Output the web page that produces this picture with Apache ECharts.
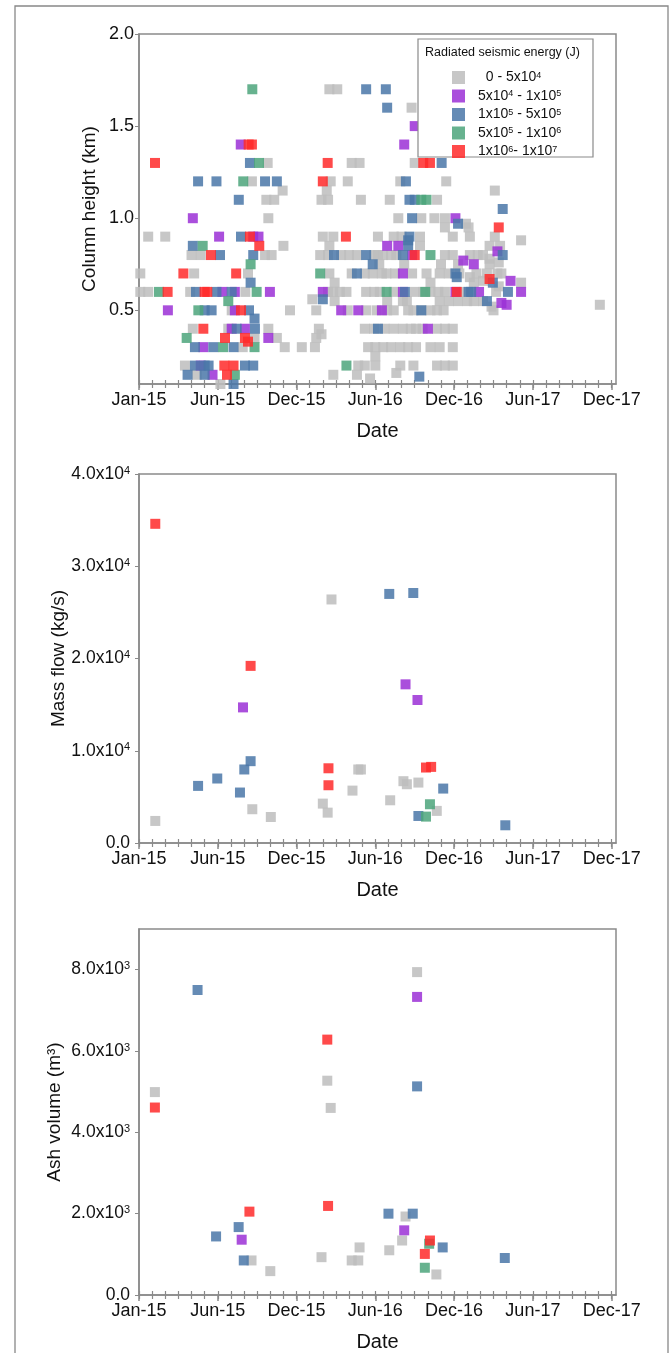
<!DOCTYPE html>
<html><head><meta charset="utf-8">
<script src="https://cdn.jsdelivr.net/npm/echarts@6/dist/echarts.min.js"></script>
<style>html,body{margin:0;padding:0;background:#fff}#c{width:669px;height:1353px}</style>
</head><body><div id="c"></div>
<script>
// x values: months since Jan-15 (axis unit = one minor tick)
const dateLabels = ['Jan-15','Jun-15','Dec-15','Jun-16','Dec-16','Jun-17','Dec-17'];
const dateLabelPos = [0,6,12,18,24,30,36];
const energyClasses = ['0 - 5x10^4','5x10^4 - 1x10^5','1x10^5 - 5x10^5','5x10^5 - 1x10^6','1x10^6- 1x10^7'];
const legendTitle = 'Radiated seismic energy (J)';

// Panel 1: column height (km)
const heightGray = [[14.5,1.7],[15.1,1.7],[20.76,1.6],[9.8,1.3],[16.2,1.3],[16.8,1.3],[21.0,1.3],
 [8.6,1.2],[14.6,1.2],[15.9,1.2],[19.9,1.2],[23.4,1.2],[10.94,1.15],[14.3,1.15],[27.1,1.15],
 [9.7,1.1],[10.3,1.1],[13.9,1.1],[14.4,1.1],[16.9,1.1],[19.1,1.1],[22.7,1.1],
 [9.85,1.0],[19.75,1.0],[21.5,1.0],[22.5,1.0],[23.3,1.0],[24.9,0.97],[23.3,0.95],[25.1,0.95],
 [0.7,0.9],[2.0,0.9],[14.0,0.9],[14.8,0.9],[18.2,0.9],[19.4,0.9],[20.0,0.9],[21.4,0.9],[23.9,0.9],[25.2,0.9],[27.1,0.9],[29.1,0.88],
 [11.0,0.85],[14.5,0.85],[21.4,0.85],[26.7,0.85],[27.5,0.85],
 [4.0,0.8],[4.7,0.8],[9.6,0.8],[10.1,0.8],[13.8,0.8],[14.4,0.8],[15.4,0.8],[16.0,0.8],[16.6,0.8],[17.9,0.8],[18.2,0.8],[18.6,0.8],[19.2,0.8],[19.6,0.8],[23.3,0.8],[23.9,0.8],[25.2,0.8],[25.8,0.8],[26.2,0.8],[26.7,0.78],
 [20.2,0.75],[24.3,0.75],[26.7,0.75],[27.4,0.76],[18.3,0.75],[23.0,0.75],
 [0.1,0.7],[4.2,0.7],[8.3,0.7],[14.5,0.7],[16.2,0.7],[17.2,0.7],[17.8,0.7],[18.5,0.7],[18.85,0.7],[19.5,0.7],[20.8,0.7],[21.9,0.7],[22.9,0.7],[23.6,0.7],[24.4,0.7],[25.2,0.68],[25.7,0.7],[26.5,0.7],[27.3,0.7],[27.6,0.7],
 [14.9,0.65],[22.2,0.65],[25.5,0.65],[27.4,0.63],[26.2,0.66],[29.1,0.65],
 [0.1,0.6],[0.7,0.6],[3.9,0.6],[8.1,0.6],[14.4,0.6],[14.8,0.6],[15.3,0.6],[15.8,0.6],[17.3,0.6],[17.9,0.6],[18.35,0.6],[19.4,0.6],[21.0,0.6],[21.65,0.6],[22.2,0.6],[22.8,0.6],[23.3,0.6],[24.8,0.6],[27.2,0.6],
 [13.2,0.56],[14.9,0.55],[18.9,0.55],[20.1,0.55],[20.4,0.55],[22.9,0.55],[23.6,0.55],[24.3,0.55],[25.0,0.55],[25.5,0.55],[26.2,0.55],[26.85,0.52],
 [7.06,0.5],[11.5,0.5],[13.5,0.5],[15.9,0.5],[17.3,0.5],[18.1,0.5],[18.9,0.5],[19.4,0.5],[20.5,0.5],[20.9,0.5],[21.5,0.5],[22.2,0.5],[22.7,0.5],[23.2,0.5],[27.0,0.5],[35.1,0.53],
 [4.1,0.4],[6.8,0.4],[9.85,0.4],[13.7,0.4],[17.2,0.4],[17.9,0.4],[18.7,0.4],[19.4,0.4],[20.1,0.4],[20.7,0.4],[21.1,0.4],[21.6,0.4],[22.7,0.4],[23.3,0.4],[23.9,0.4],
 [8.8,0.35],[10.5,0.35],[13.5,0.35],[13.9,0.37],
 [7.9,0.3],[11.1,0.3],[12.4,0.3],[13.4,0.3],[17.45,0.3],[18.0,0.3],[18.6,0.3],[19.2,0.3],[19.9,0.3],[20.5,0.3],[21.1,0.3],[22.2,0.3],[22.9,0.3],[23.9,0.3],
 [18.0,0.25],
 [3.5,0.2],[16.7,0.2],[17.2,0.2],[18.0,0.2],[19.9,0.2],[20.9,0.2],[22.7,0.2],[23.3,0.2],[23.9,0.2],
 [4.4,0.15],[14.8,0.15],[16.6,0.15],[17.6,0.13],[19.6,0.16],[6.2,0.1]];
const heightPurple = [[21.0,1.5],[7.75,1.4],[20.2,1.4],[4.1,1.0],[24.1,1.0],[6.1,0.9],[8.7,0.9],[9.1,0.9],[18.9,0.85],[19.75,0.85],
 [20.8,0.8],[24.7,0.77],[27.3,0.82],[25.5,0.75],[20.1,0.7],[14.0,0.6],[6.35,0.6],[7.3,0.6],[9.97,0.6],[20.1,0.6],[24.1,0.6],[25.9,0.6],[28.3,0.66],[29.1,0.6],
 [2.2,0.5],[7.3,0.5],[15.4,0.5],[16.7,0.5],[18.5,0.5],[28.0,0.53],[27.6,0.54],[7.06,0.4],[8.07,0.4],[22.0,0.4],[9.85,0.35],[4.9,0.3],[5.6,0.15],[4.7,0.2]];
const heightBlue = [[17.3,1.7],[18.8,1.7],[18.9,1.6],[8.45,1.3],[23.05,1.3],[4.5,1.2],[5.9,1.2],[9.6,1.2],[10.5,1.2],[20.33,1.2],
 [7.6,1.1],[20.6,1.1],[21.0,1.1],[27.7,1.05],[20.8,1.0],[24.3,0.97],[7.77,0.9],[20.6,0.9],[4.1,0.85],[20.5,0.88],[20.5,0.85],
 [6.17,0.8],[8.7,0.8],[14.85,0.8],[17.3,0.8],[20.1,0.8],[27.7,0.8],[17.8,0.75],[16.6,0.7],[24.1,0.7],[24.2,0.68],[8.5,0.65],[26.95,0.65],
 [4.34,0.6],[5.9,0.6],[7.06,0.6],[20.25,0.6],[25.1,0.6],[25.3,0.6],[28.1,0.6],[14.0,0.56],[26.5,0.55],
 [5.0,0.5],[5.53,0.5],[8.38,0.5],[21.5,0.5],[8.8,0.455],[7.44,0.4],[8.83,0.4],[18.2,0.4],[4.26,0.3],[5.66,0.3],[7.2,0.3],
 [4.26,0.2],[5.0,0.2],[5.3,0.2],[8.07,0.2],[8.7,0.2],[3.7,0.15],[5.0,0.15],[21.35,0.14],[7.2,0.1]];
const heightGreen = [[8.63,1.7],[9.14,1.3],[7.94,1.2],[21.5,1.1],[21.9,1.1],[4.85,0.85],[22.2,0.8],[8.5,0.75],[13.8,0.7],[1.52,0.6],[8.96,0.6],[18.86,0.6],[21.8,0.6],
 [6.8,0.55],[4.52,0.5],[3.63,0.35],[6.4,0.3],[8.8,0.3],[15.8,0.2],[7.3,0.15]];
const heightRed = [[1.22,1.3],[8.35,1.4],[8.6,1.4],[14.37,1.3],[21.65,1.3],[22.16,1.3],[14.0,1.2],[27.4,0.95],[8.45,0.9],[15.76,0.9],[9.16,0.85],
 [5.48,0.8],[21.0,0.8],[3.38,0.7],[7.4,0.7],[26.7,0.67],[2.18,0.6],[5.0,0.6],[5.2,0.6],[24.2,0.6],[7.77,0.5],[4.9,0.4],[6.55,0.35],[8.07,0.35],[8.3,0.33],
 [6.5,0.2],[7.2,0.2],[6.7,0.15]];

// Panel 2: mass flow (kg/s)
const massGray = [[1.24,2390],[8.63,3660],[10.04,2820],[14.0,4270],[14.37,3290],[14.66,26400],[16.26,5680],[16.7,7970],[16.9,7970],[19.13,4630],[20.14,6700],[20.4,6370],[21.28,6550],[22.68,3480]];
const massPurple = [[7.92,14700],[20.3,17200],[21.21,15500]];
const massBlue = [[4.5,6190],[5.96,6990],[7.69,5470],[8.02,7970],[8.5,8870],[19.06,27000],[20.89,27100],[21.28,2930],[23.17,5900],[27.9,1920]];
const massGreen = [[22.16,4200],[21.86,2860]];
const massRed = [[1.24,34600],[8.5,19200],[14.43,8100],[14.43,6260],[21.86,8180],[22.25,8250]];

// Panel 3: ash volume (m3)
const ashGray = [[1.21,4990],[8.57,850],[10.0,587],[13.9,930],[14.34,5270],[14.6,4600],[16.2,850],[16.7,850],[16.8,1170],[19.06,1100],[20.04,1340],[20.3,1930],[21.18,7940],[22.65,505]];
const ashPurple = [[7.82,1360],[20.2,1590],[21.18,7330]];
const ashBlue = [[4.46,7500],[5.87,1440],[7.59,1670],[7.98,850],[19.0,2000],[20.85,2000],[21.18,5130],[23.13,1170],[27.86,910]];
const ashGreen = [[21.77,670],[22.1,1260]];
const ashRed = [[1.21,4610],[8.41,2050],[14.34,6280],[14.4,2190],[21.77,1010],[22.16,1340]];

const colors = ['#bdbdbd','#9b30d6','#4a77a8','#4ca57b','#ff2a2a'];
const FONT = 'Liberation Sans, Arial, sans-serif';
const AX = '#8a8a8a';
const XMAX = 36.33;
const allMonths = Array.from({length:37},(_,i)=>i);

const grids = [
  {left:139, top:34, width:477, height:350},
  {left:139, top:474, width:477, height:369},
  {left:139, top:929, width:477, height:368}
];

const xAxes = [], yAxes = [];
grids.forEach((g,i)=>{
  xAxes.push({gridIndex:i,type:'value',position:'bottom',offset:0,min:0,max:XMAX,name:'Date',nameLocation:'middle',nameGap:37,
    nameMoveOverlap:false,
    nameTextStyle:{fontFamily:FONT,fontSize:20,color:'#111'},
    axisLine:{show:true,lineStyle:{color:AX,width:1.5}},splitLine:{show:false},
    axisTick:{show:true,length:6,customValues:dateLabelPos,lineStyle:{color:AX,width:1.5}},
    axisLabel:{show:true,margin:7,fontFamily:FONT,fontSize:18,color:'#111',customValues:dateLabelPos,
      formatter:v=>{const k=dateLabelPos.indexOf(Math.round(v));return k>=0?dateLabels[k]:'';}}});
  xAxes.push({gridIndex:i,type:'value',position:'bottom',offset:0,min:0,max:XMAX,axisLine:{show:false},splitLine:{show:false},
    axisTick:{show:true,length:4,customValues:allMonths,lineStyle:{color:AX,width:1.2}},axisLabel:{show:false}});
  xAxes.push({gridIndex:i,type:'value',position:'bottom',offset:0,min:0,max:XMAX,axisLine:{show:false},splitLine:{show:false},
    axisTick:{show:true,inside:true,length:4,customValues:allMonths,lineStyle:{color:AX,width:1.2}},axisLabel:{show:false}});
});

const supRich = {s:{fontSize:11,verticalAlign:'top',lineHeight:11,fontFamily:FONT,color:'#111'}};
yAxes.push({gridIndex:0,type:'value',min:0.1,max:2.0,name:'Column height (km)',nameLocation:'middle',nameGap:40,nameMoveOverlap:false,
  nameTextStyle:{fontFamily:FONT,fontSize:19,color:'#111'},
  axisLine:{show:true,lineStyle:{color:AX,width:1.5}},splitLine:{show:false},
  axisTick:{show:true,length:4,customValues:[0.5,1.0,1.5,2.0],lineStyle:{color:AX}},
  axisLabel:{margin:5,fontFamily:FONT,fontSize:18,color:'#111',customValues:[0.5,1.0,1.5,2.0],formatter:v=>v.toFixed(1)}});
yAxes.push({gridIndex:1,type:'value',min:0,max:40000,interval:10000,name:'Mass flow (kg/s)',nameLocation:'middle',nameGap:71,nameMoveOverlap:false,
  nameTextStyle:{fontFamily:FONT,fontSize:19,color:'#111'},
  axisLine:{show:true,lineStyle:{color:AX,width:1.5}},splitLine:{show:false},
  axisTick:{show:true,length:4,lineStyle:{color:AX}},
  axisLabel:{margin:9,fontFamily:FONT,fontSize:17.5,color:'#111',rich:supRich,
    formatter:v=>v===0?'0.0':(v/1e4).toFixed(1)+'x10{s|4}'}});
yAxes.push({gridIndex:2,type:'value',min:0,max:9000,name:'Ash volume (m\u00b3)',nameLocation:'middle',nameGap:75,nameMoveOverlap:false,
  nameTextStyle:{fontFamily:FONT,fontSize:19,color:'#111'},
  axisLine:{show:true,lineStyle:{color:AX,width:1.5}},splitLine:{show:false},
  axisTick:{show:true,length:4,customValues:[0,2000,4000,6000,8000],lineStyle:{color:AX}},
  axisLabel:{margin:9,fontFamily:FONT,fontSize:17.5,color:'#111',rich:supRich,customValues:[0,2000,4000,6000,8000],
    formatter:v=>v===0?'0.0':(v/1e3).toFixed(1)+'x10{s|3}'}});

const panelData = [
  [heightGray,heightPurple,heightBlue,heightGreen,heightRed],
  [massGray,massPurple,massBlue,massGreen,massRed],
  [ashGray,ashPurple,ashBlue,ashGreen,ashRed]
];
const series = [];
panelData.forEach((arr,p)=>{
  arr.forEach((d,c)=>{
    series.push({type:'scatter',name:energyClasses[c],xAxisIndex:p*3,yAxisIndex:p,data:d,
      symbol:'rect',symbolSize:10,itemStyle:{color:colors[c],opacity:0.85},z:2+c*0.01,emphasis:{disabled:true},silent:true});
  });
});

const chart = echarts.init(document.getElementById('c'),null,{renderer:'canvas'});
chart.setOption({
  animation:false,
  backgroundColor:'#fff',
  grid:grids.map(g=>Object.assign({show:true,borderColor:AX,borderWidth:1.5,backgroundColor:'transparent'},g)),
  xAxis:xAxes, yAxis:yAxes, series:series,
  legend:{data:energyClasses,orient:'vertical',left:447,top:65.5,itemWidth:13,itemHeight:13,itemGap:4.5,
    icon:'rect',selectedMode:false,z:10,
    textStyle:{fontFamily:FONT,fontSize:14,color:'#111',lineHeight:13,padding:[0,0,0,8],
      rich:{n:{fontSize:14,fontFamily:FONT,color:'#111'},s:{fontSize:9,verticalAlign:'top',lineHeight:9,fontFamily:FONT,color:'#111'}}},
    formatter:name=>{
      const t=(name.startsWith('0')?'  ':'')+name;
      return t.split(/\^(\d)/).map((s,i)=>i%2?'{s|'+s+'}':(s?'{n|'+s+'}':'')).join('');
    }},
  graphic:[
    {type:'rect',z:0,shape:{x:15,y:6,width:653,height:1400},style:{fill:'none',stroke:'#888',lineWidth:1.3}},
    {type:'rect',z:8,shape:{x:418,y:39,width:175,height:118},style:{fill:'#fff',stroke:AX,lineWidth:1.2}},
    {type:'text',z:9,left:425,top:46,style:{text:legendTitle,fontFamily:FONT,fontSize:12.5,fill:'#111'}}
  ]
});
</script></body></html>
